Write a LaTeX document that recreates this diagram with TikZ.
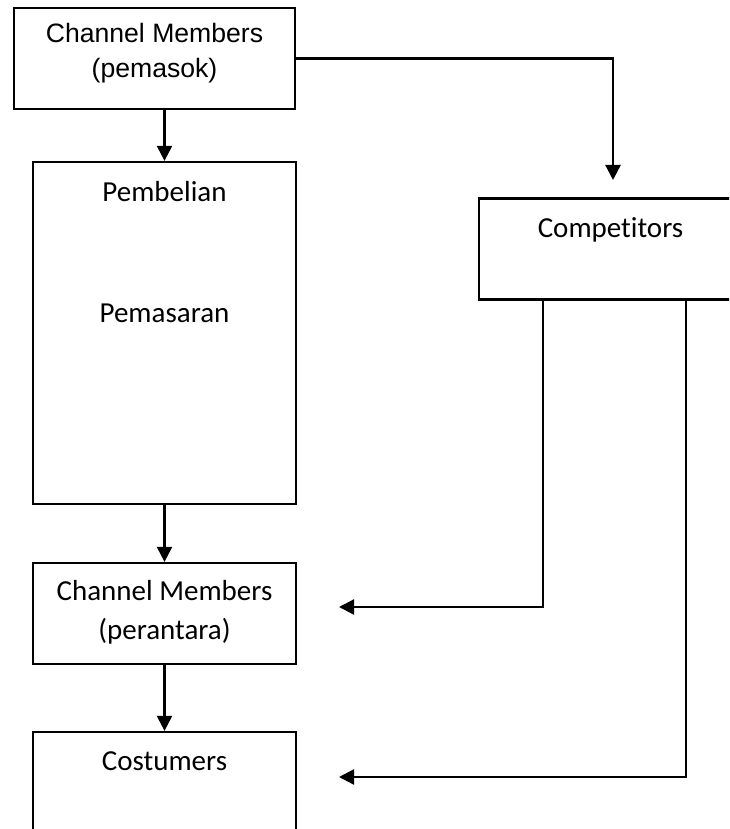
\documentclass[tikz,border=0pt]{standalone}
\usepackage{fontspec}
\setmainfont{Carlito}[Ligatures=NoCommon]
\newfontfamily\arialfont{Liberation Sans}
\usetikzlibrary{arrows.meta,calc}
\begin{document}
\begin{tikzpicture}[x=1pt,y=-1pt,
  box/.style={draw,line width=2.3pt,inner sep=0pt,minimum width=263pt,minimum height=101pt},
  txt/.style={anchor=base,inner sep=0pt,font=\fontsize{29}{35}\selectfont},
  arialtxt/.style={anchor=base,inner sep=0pt,font=\arialfont\fontsize{26.6}{32}\selectfont},
  flow/.style={line width=2.3pt,-{Triangle[length=15pt,width=15pt]}}]

\useasboundingbox (0,0) rectangle (729,829);
\clip (0,0) rectangle (729,829);

% boxes
\node[box,minimum width=281pt] (sup) at (154.5,58.5) {};
\node[box,minimum height=342pt] (pem) at (164.5,333) {};
\node[box] (comp) at (610.5,249) {};
\node[box] (per) at (164.5,613.5) {};
\node[box] (cos) at (164.5,782.5) {};

% texts
\node[arialtxt] (supa) at (154.5,43) {Channel Members};
\node[arialtxt] (supb) at (154.5,78) {(pemasok)};
\node[txt] (pema) at (164.5,201.5) {Pembelian};
\node[txt] (pemb) at (164.5,322) {Pemasaran};
\node[txt] (compt) at (610.5,237) {Competitors};
\node[txt] (pera) at (164.5,600) {Channel Members};
\node[txt] (perb) at (164.5,639) {(perantara)};
\node[txt] (cost) at (164.5,770.5) {Costumers};

% connectors
\coordinate (compin) at (613,180);
\coordinate (perin) at (339,607);
\coordinate (cosin) at (339,777);
\draw[flow] (pem.north |- sup.south) -- (pem.north);
\draw[flow] (sup.east) -| (compin);
\draw[flow] (pem.south) -- (per.north);
\draw[flow] (per.south) -- (cos.north);
\draw[flow] ($(comp.south west)!0.245!(comp.south east)$) |- (perin);
\draw[flow] ($(comp.south west)!0.785!(comp.south east)$) |- (cosin);
\end{tikzpicture}
\end{document}
